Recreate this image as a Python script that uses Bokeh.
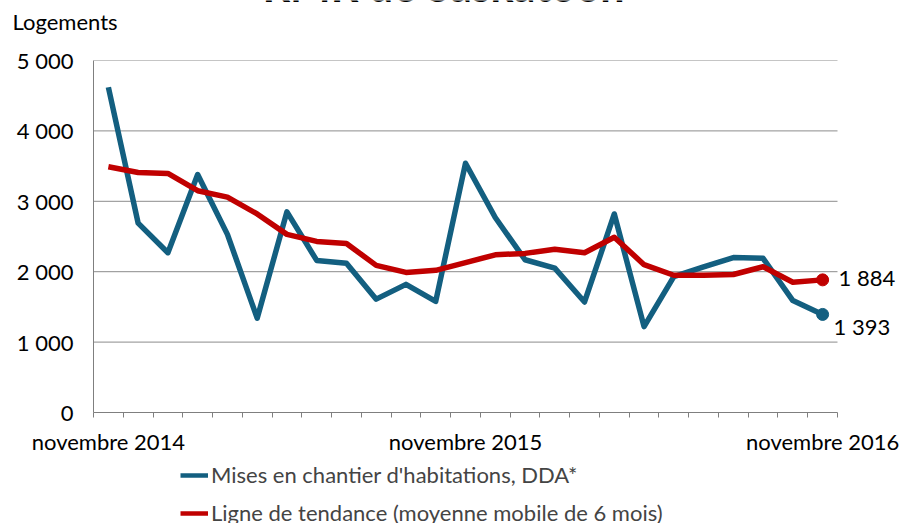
from bokeh.plotting import figure
from bokeh.layouts import column
from bokeh.models import (ColumnDataSource, FixedTicker, Range1d, Legend, LegendItem, Label, Title)
from bokeh.core.properties import value
from bokeh.embed import file_html
from bokeh.resources import INLINE

# ---- data ----
months = ["2014-11", "2014-12", "2015-01", "2015-02", "2015-03", "2015-04", "2015-05",
          "2015-06", "2015-07", "2015-08", "2015-09", "2015-10", "2015-11", "2015-12",
          "2016-01", "2016-02", "2016-03", "2016-04", "2016-05", "2016-06", "2016-07",
          "2016-08", "2016-09", "2016-10", "2016-11"]
starts = [4620, 2690, 2270, 3380, 2530, 1340, 2850, 2160, 2120, 1610, 1820, 1580, 3540,
          2770, 2170, 2050, 1570, 2820, 1220, 1930, 2070, 2200, 2190, 1590, 1393]
trend = [3490, 3410, 3395, 3150, 3060, 2820, 2530, 2430, 2400, 2090, 1990, 2020, 2130,
         2240, 2260, 2320, 2270, 2490, 2100, 1950, 1950, 1960, 2070, 1850, 1884]
x_tick_months = ["2014-11", "2015-11", "2016-11"]
x_tick_labels = ["novembre 2014", "novembre 2015", "novembre 2016"]
y_ticks = [0, 1000, 2000, 3000, 4000, 5000]
y_tick_labels = ["0", "1 000", "2 000", "3 000", "4 000", "5 000"]
series_names = ["Mises en chantier d'habitations, DDA*",
                "Ligne de tendance (moyenne mobile de 6 mois)"]
title_text = "RMR de Saskatoon"
y_title = "Logements"

BLUE = "#135F80"
RED = "#C00000"
FONT = "Lato"
FS = "22px"

W = 899
LEFT = 93
n = len(months)
unit = 744 / n                      # pixels per month in the reference
x_end = -0.5 + (W - LEFT) / unit    # room on the right for the end labels


def bare(h, yr):
    f = figure(width=W, height=h, output_backend="svg", toolbar_location=None,
               x_axis_type=None, y_axis_type=None,
               x_range=Range1d(-0.5, x_end), y_range=yr,
               min_border=0, min_border_left=0, min_border_right=0,
               min_border_top=0, min_border_bottom=0)
    f.outline_line_color = None
    f.xgrid.visible = False
    f.ygrid.visible = False
    return f


src = ColumnDataSource(dict(x=list(range(n)), starts=starts, trend=trend))

# ---- top strip: main title (cut at the top edge) and the unit label ----
top = bare(34, Range1d(0, 1))
top.add_layout(Label(x=350, y=1, x_units="screen", y_units="data",
                     y_offset=-10,
                     text=title_text, text_font=FONT, text_font_size="43px",
                     text_font_style="bold", text_baseline="bottom", text_align="center",
                     text_color="black"))
top.add_layout(Title(text=y_title, align="left", offset=-81, vertical_align="bottom",
                     standoff=0, text_font=FONT, text_font_size=FS,
                     text_font_style="normal", text_color="black"), "below")

# ---- main chart ----
p = figure(width=W, height=426, output_backend="svg", toolbar_location=None,
           x_range=Range1d(-0.5, x_end), y_range=Range1d(0, 5000),
           min_border_left=LEFT, min_border_right=0, min_border_top=26,
           min_border_bottom=48)
p.outline_line_color = None

gy = y_ticks[1:]
p.segment(x0=[-0.5] * len(gy), x1=[n - 0.5] * len(gy), y0=gy, y1=gy,
          line_color="#8c8c8c", line_width=1)

xa = p.xaxis[0]
major = [months.index(m) for m in x_tick_months]
xa.ticker = FixedTicker(ticks=major, minor_ticks=[i - 0.5 for i in range(n + 1)])
xa.bounds = (-0.5, n - 0.5)
xa.major_label_overrides = {m: l for m, l in zip(major, x_tick_labels)}
xa.major_tick_out = 0
xa.major_tick_in = 0
xa.minor_tick_out = 5
xa.minor_tick_in = 0
xa.minor_tick_line_color = "#7f7f7f"
xa.axis_line_color = "#7f7f7f"
xa.major_label_standoff = 10
xa.major_label_text_font = FONT
xa.major_label_text_font_size = FS
xa.major_label_text_color = "black"

ya = p.yaxis[0]
ya.ticker = FixedTicker(ticks=y_ticks)
ya.bounds = (0, 5000)
ya.major_label_overrides = {t: l for t, l in zip(y_ticks, y_tick_labels)}
ya.major_tick_out = 0
ya.major_tick_in = 0
ya.minor_tick_out = 0
ya.minor_tick_in = 0
ya.axis_line_color = "#7f7f7f"
ya.major_label_standoff = 20
ya.major_label_text_font = FONT
ya.major_label_text_font_size = FS
ya.major_label_text_color = "black"

p.xgrid.grid_line_color = None
p.ygrid.grid_line_color = None

p.line("x", "starts", source=src, line_color=BLUE, line_width=5.5, line_join="round")
p.line("x", "trend", source=src, line_color=RED, line_width=5.5, line_join="round")

last = n - 1
end_src = ColumnDataSource(dict(x=[last, last], y=[starts[-1], trend[-1]],
                                c=[BLUE, RED],
                                t=["{:,}".format(v).replace(",", " ") for v in [starts[-1], trend[-1]]],
                                xo=[11, 16], yo=[12, -2]))
p.scatter("x", "y", source=end_src, size=12, fill_color="c", line_color="c")
p.text("x", "y", text="t", source=end_src, x_offset="xo", y_offset="yo",
       text_font=value(FONT), text_font_size=FS, text_baseline="middle",
       text_align="left", text_color="black")

# ---- bottom strip: legend (series drawn out of view, only their legend glyphs show) ----
bot = bare(63, Range1d(-20000, -19000))
l1 = bot.line("x", "starts", source=src, line_color=BLUE, line_width=4.5)
l2 = bot.line("x", "trend", source=src, line_color=RED, line_width=4.5)
legend = Legend(items=[LegendItem(label=series_names[0], renderers=[l1]),
                       LegendItem(label=series_names[1], renderers=[l2])],
                location=(87, -3), orientation="vertical",
                label_text_font=FONT, label_text_font_size=FS,
                glyph_width=28, glyph_height=20, label_height=20, label_standoff=3,
                spacing=11, padding=0, margin=0, border_line_color=None,
                background_fill_alpha=0)
bot.add_layout(legend, "center")

layout = column(top, p, bot, spacing=0)
open("out.html", "w").write(file_html(layout, INLINE))
